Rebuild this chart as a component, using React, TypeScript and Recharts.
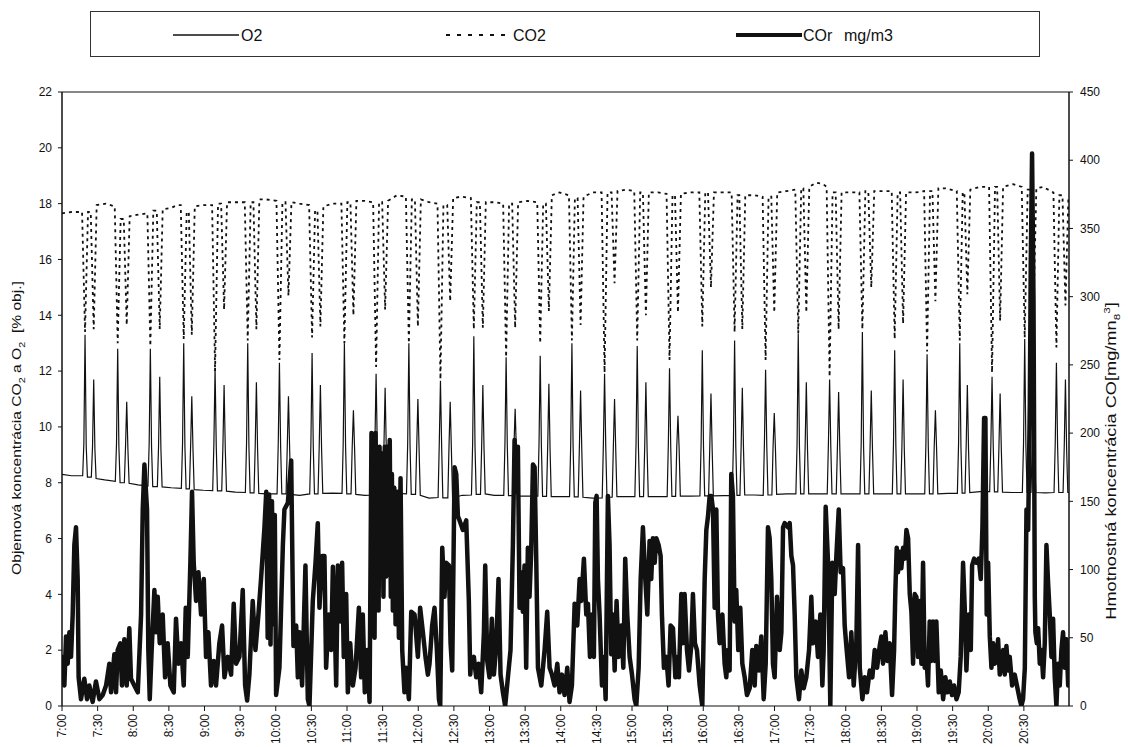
import React from "react";
import { ComposedChart, Line, XAxis, YAxis, ReferenceLine } from "recharts";

type Pt = [number, number];

// minutes after 7:00 for every labelled tick
const timeTicks = [
  0, 30, 60, 90, 120, 150, 180, 210, 240, 270, 300, 330, 360, 390, 420, 450, 480, 510, 540, 570,
  600, 630, 660, 690, 720, 750, 780, 810,
];
const timeLabels = [
  "7:00", "7:30", "8:00", "8:30", "9:00", "9:30", "10:00", "10:30", "11:00", "11:30", "12:00",
  "12:30", "13:00", "13:30", "14:00", "14:30", "15:00", "15:30", "16:00", "16:30", "17:00",
  "17:30", "18:00", "18:30", "19:00", "19:30", "20:00", "20:30",
];
const leftTicks = [0, 2, 4, 6, 8, 10, 12, 14, 16, 18, 20, 22];
const rightTicks = [0, 50, 100, 150, 200, 250, 300, 350, 400, 450];

// O2 [% obj.]  (minute, value)
const o2Points: Pt[] = [
  [0, 8.3], [8, 8.25],
  [17.4, 8.25], [18.4, 9.4], [19.4, 13.3], [20.4, 9.3], [21.4, 8.2], [24.7, 8.2], [25.7, 9.3], [26.7, 11.7], [27.7, 9.2], [28.7, 8.15], [36, 8.1],
  [44.9, 8.05], [45.9, 9.4], [46.9, 12.8], [47.9, 9.3], [48.9, 8.0], [52.5, 8.0], [53.5, 9.3], [54.5, 10.9], [55.5, 9.2], [56.5, 7.98], [64, 7.92],
  [72.4, 7.88], [73.4, 9.4], [74.4, 12.8], [75.4, 9.3], [76.4, 7.86], [80.3, 7.86], [81.3, 9.3], [82.3, 11.8], [83.3, 9.2], [84.3, 7.85], [92, 7.82],
  [100.5, 7.8], [101.5, 9.4], [102.5, 13.0], [103.5, 9.3], [104.5, 7.78], [107.3, 7.78], [108.3, 9.3], [109.3, 11.1], [110.3, 9.2], [111.3, 7.75], [119, 7.73],
  [126.9, 7.72], [127.9, 9.4], [128.9, 12.1], [129.9, 9.3], [130.9, 7.71], [134.5, 7.71], [135.5, 9.3], [136.5, 11.5], [137.5, 9.2], [138.5, 7.7], [146, 7.66],
  [154.4, 7.65], [155.4, 9.4], [156.4, 13.0], [157.4, 9.3], [158.4, 7.64], [161.7, 7.64], [162.7, 9.3], [163.7, 11.6], [164.7, 9.2], [165.7, 7.62], [173, 7.6],
  [181.1, 7.6], [182.1, 9.4], [183.1, 12.3], [184.1, 9.3], [185.1, 7.6], [188.7, 7.6], [189.7, 9.3], [190.7, 11.1], [191.7, 9.2], [192.7, 7.58], [200, 7.55],
  [208.6, 7.6], [209.6, 9.4], [210.6, 12.65], [211.6, 9.3], [212.6, 7.6], [215.6, 7.6], [216.6, 9.3], [217.6, 11.5], [218.6, 9.2], [219.6, 7.62], [228, 7.63],
  [235.8, 7.62], [236.8, 9.4], [237.8, 13.0], [238.8, 9.3], [239.8, 7.6], [243.4, 7.6], [244.4, 9.3], [245.4, 10.6], [246.4, 9.2], [247.4, 7.58], [255, 7.55],
  [262.5, 7.56], [263.5, 9.4], [264.5, 11.9], [265.5, 9.3], [266.5, 7.57], [270.1, 7.57], [271.1, 9.3], [272.1, 11.4], [273.1, 9.2], [274.1, 7.58], [282, 7.62],
  [290.1, 7.6], [291.1, 9.4], [292.1, 13.0], [293.1, 9.3], [294.1, 7.58], [297.7, 7.58], [298.7, 9.3], [299.7, 11.0], [300.7, 9.2], [301.7, 7.55], [309, 7.45],
  [316.7, 7.47], [317.7, 9.4], [318.7, 11.65], [319.7, 9.3], [320.7, 7.46], [324.9, 7.46], [325.9, 9.3], [326.9, 10.9], [327.9, 9.2], [328.9, 7.45], [337, 7.55],
  [344.8, 7.56], [345.8, 9.4], [346.8, 13.25], [347.8, 9.3], [348.8, 7.58], [352.4, 7.58], [353.4, 9.3], [354.4, 11.5], [355.4, 9.2], [356.4, 7.6], [364, 7.55],
  [372, 7.55], [373, 9.4], [374, 12.5], [375, 9.3], [376, 7.54], [379.6, 7.54], [380.6, 9.3], [381.6, 10.65], [382.6, 9.2], [383.6, 7.52], [392, 7.52],
  [400.7, 7.52], [401.7, 9.4], [402.7, 12.55], [403.7, 9.3], [404.7, 7.51], [408, 7.51], [409, 9.3], [410, 11.55], [411, 9.2], [412, 7.5], [420, 7.5],
  [427.4, 7.5], [428.4, 9.4], [429.4, 13.0], [430.4, 9.3], [431.4, 7.49], [434.7, 7.49], [435.7, 9.3], [436.7, 11.3], [437.7, 9.2], [438.7, 7.48], [447, 7.45],
  [454.9, 7.46], [455.9, 9.4], [456.9, 11.9], [457.9, 9.3], [458.9, 7.48], [463.3, 7.48], [464.3, 9.3], [465.3, 11.0], [466.3, 9.2], [467.3, 7.5], [475, 7.5],
  [482.4, 7.5], [483.4, 9.4], [484.4, 12.9], [485.4, 9.3], [486.4, 7.5], [489.7, 7.5], [490.7, 9.3], [491.7, 11.6], [492.7, 9.2], [493.7, 7.5], [502, 7.5],
  [509.6, 7.5], [510.6, 9.4], [511.6, 12.1], [512.6, 9.3], [513.6, 7.51], [516.7, 7.51], [517.7, 9.3], [518.7, 10.4], [519.7, 9.2], [520.7, 7.52], [529, 7.52],
  [537.2, 7.53], [538.2, 9.4], [539.2, 12.75], [540.2, 9.3], [541.2, 7.53], [544.5, 7.53], [545.5, 9.3], [546.5, 11.2], [547.5, 9.2], [548.5, 7.53], [557, 7.54],
  [564.4, 7.54], [565.4, 9.4], [566.4, 13.1], [567.4, 9.3], [568.4, 7.55], [570.9, 7.55], [571.9, 9.3], [572.9, 11.4], [573.9, 9.2], [574.9, 7.56], [583, 7.56],
  [590.5, 7.55], [591.5, 9.4], [592.5, 12.05], [593.5, 9.3], [594.5, 7.56], [597.8, 7.56], [598.8, 9.3], [599.8, 10.5], [600.8, 9.2], [601.8, 7.58], [610, 7.6],
  [618, 7.6], [619, 9.4], [620, 13.35], [621, 9.3], [622, 7.6], [624.8, 7.6], [625.8, 9.3], [626.8, 11.6], [627.8, 9.2], [628.8, 7.6], [637, 7.6],
  [644.4, 7.6], [645.4, 9.4], [646.4, 11.7], [647.4, 9.3], [648.4, 7.6], [652, 7.6], [653, 9.3], [654, 11.25], [655, 9.2], [656, 7.6], [664, 7.6],
  [672, 7.6], [673, 9.4], [674, 13.4], [675, 9.3], [676, 7.6], [679.5, 7.6], [680.5, 9.3], [681.5, 11.3], [682.5, 9.2], [683.5, 7.6], [691, 7.6],
  [699.2, 7.6], [700.2, 9.4], [701.2, 12.75], [702.2, 9.3], [703.2, 7.6], [706.3, 7.6], [707.3, 9.3], [708.3, 11.7], [709.3, 9.2], [710.3, 7.6], [719, 7.6],
  [726.5, 7.6], [727.5, 9.4], [728.5, 12.6], [729.5, 9.3], [730.5, 7.6], [733.5, 7.6], [734.5, 9.3], [735.5, 10.6], [736.5, 9.2], [737.5, 7.6], [746, 7.62],
  [754, 7.62], [755, 9.4], [756, 13.0], [757, 9.3], [758, 7.63], [760.4, 7.63], [761.4, 9.3], [762.4, 11.5], [763.4, 9.2], [764.4, 7.65], [773, 7.68],
  [781.2, 7.68], [782.2, 9.4], [783.2, 11.8], [784.2, 9.3], [785.2, 7.67], [788, 7.67], [789, 9.3], [790, 11.2], [791, 9.2], [792, 7.66], [800, 7.65],
  [808.7, 7.65], [809.7, 9.4], [810.7, 13.15], [811.7, 9.3], [812.7, 7.65], [816, 7.65], [817, 9.3], [818, 11.0], [819, 9.2], [820, 7.65], [828, 7.64],
  [835.4, 7.65], [836.4, 9.4], [837.4, 12.3], [838.4, 9.3], [839.4, 7.65], [843, 7.65], [844, 9.3], [845, 11.7], [846, 9.2], [847, 7.65], [850, 7.65],
];

// CO2 [% obj.]
const co2Points: Pt[] = [
  [0, 17.65], [8, 17.7],
  [16.9, 17.7], [19.4, 13.4], [21.9, 17.7], [24.2, 17.7], [26.7, 13.5], [29.2, 17.95], [37, 18.0],
  [44.4, 17.9], [46.9, 13.0], [49.4, 17.45], [52.0, 17.45], [54.5, 13.65], [57.0, 17.55], [63, 17.6],
  [71.9, 17.65], [74.4, 12.9], [76.9, 17.75], [79.8, 17.75], [82.3, 13.5], [84.8, 17.8], [92, 17.85], [97, 17.95],
  [100.0, 17.95], [102.5, 13.15], [105.0, 17.7], [106.8, 17.7], [109.3, 13.3], [111.8, 17.9], [119, 17.95],
  [126.4, 17.95], [128.9, 12.0], [131.4, 18.0], [134.0, 18.0], [136.5, 14.2], [139.0, 18.05], [146, 18.05],
  [153.9, 18.05], [156.4, 13.1], [158.9, 18.05], [161.2, 18.05], [163.7, 13.5], [166.2, 18.15], [172, 18.15],
  [180.6, 18.1], [183.1, 12.4], [185.6, 18.05], [188.2, 18.05], [190.7, 14.7], [193.2, 18.05], [200, 18.0],
  [208.1, 17.95], [210.6, 13.2], [213.1, 17.75], [215.1, 17.75], [217.6, 13.6], [220.1, 17.9], [228, 18.0],
  [235.3, 18.0], [237.8, 13.0], [240.3, 18.05], [242.9, 18.05], [245.4, 14.0], [247.9, 18.1], [255, 18.1],
  [262.0, 18.05], [264.5, 12.15], [267.0, 18.05], [269.6, 18.05], [272.1, 14.2], [274.6, 18.1], [282, 18.3],
  [289.6, 18.25], [292.1, 13.0], [294.6, 18.15], [297.2, 18.15], [299.7, 13.6], [302.2, 18.15], [309, 18.05],
  [316.2, 18.0], [318.7, 11.7], [321.2, 17.95], [324.4, 17.95], [326.9, 14.5], [329.4, 18.2], [336, 18.25],
  [344.3, 18.2], [346.8, 13.5], [349.3, 18.05], [351.9, 18.05], [354.4, 13.55], [356.9, 18.05], [364, 18.05],
  [371.5, 18.0], [374, 12.5], [376.5, 18.0], [379.1, 18.0], [381.6, 13.55], [384.1, 18.05], [392, 18.1],
  [400.2, 18.05], [402.7, 13.0], [405.2, 18.0], [407.5, 18.0], [410, 14.15], [412.5, 18.3], [419, 18.4],
  [426.9, 18.3], [429.4, 13.1], [431.9, 18.2], [434.2, 18.2], [436.7, 13.65], [439.2, 18.25], [447, 18.4],
  [454.4, 18.4], [456.9, 11.95], [459.4, 18.4], [462.8, 18.4], [465.3, 15.15], [467.8, 18.45], [475, 18.5],
  [481.9, 18.45], [484.4, 13.1], [486.9, 18.4], [489.2, 18.4], [491.7, 14.0], [494.2, 18.4], [502, 18.4],
  [509.1, 18.35], [511.6, 12.4], [514.1, 18.3], [516.2, 18.3], [518.7, 14.1], [521.2, 18.35], [529, 18.4],
  [536.7, 18.4], [539.2, 13.6], [541.7, 18.4], [544.0, 18.4], [546.5, 15.0], [549.0, 18.4], [557, 18.4],
  [563.9, 18.4], [566.4, 13.4], [568.9, 18.3], [570.4, 18.3], [572.9, 13.5], [575.4, 18.3], [583, 18.3],
  [590.0, 18.25], [592.5, 12.4], [595.0, 18.25], [597.3, 18.25], [599.8, 14.1], [602.3, 18.4], [610, 18.45],
  [617.5, 18.5], [620, 13.35], [622.5, 18.55], [624.3, 18.55], [626.8, 14.1], [629.3, 18.6], [635, 18.75], [641, 18.7],
  [643.9, 18.6], [646.4, 11.8], [648.9, 18.4], [651.5, 18.4], [654, 13.5], [656.5, 18.4], [664, 18.4],
  [671.5, 18.4], [674, 13.5], [676.5, 18.45], [679.0, 18.45], [681.5, 15.0], [684.0, 18.45], [691, 18.45],
  [698.7, 18.45], [701.2, 13.15], [703.7, 18.4], [705.8, 18.4], [708.3, 13.7], [710.8, 18.4], [719, 18.4],
  [726.0, 18.45], [728.5, 12.7], [731.0, 18.45], [733.0, 18.45], [735.5, 14.5], [738.0, 18.55], [744, 18.55],
  [753.5, 18.45], [756, 13.1], [758.5, 18.4], [759.9, 18.4], [762.4, 14.75], [764.9, 18.5], [773, 18.6],
  [780.7, 18.6], [783.2, 11.95], [785.7, 18.6], [787.5, 18.6], [790, 13.8], [792.5, 18.6], [801, 18.7],
  [808.2, 18.6], [810.7, 13.2], [813.2, 18.5], [815.5, 18.5], [818, 14.0], [820.5, 18.55], [826, 18.6],
  [834.9, 18.4], [837.4, 12.85], [839.9, 18.3], [842.5, 18.3], [845, 14.35], [847.5, 18.25], [850, 18.2],
];

// COr [mg/m3], right axis
const corPoints: Pt[] = [
  [0, 23], [0.5, 36], [2, 15], [3.4, 51], [4.8, 31], [6.2, 54], [7.6, 36], [9, 67], [10.4, 118], [11.8, 131],
  [13.2, 93], [14, 21], [16, 5], [18.8, 20], [21.1, 5], [23, 15], [25.8, 3], [28.6, 18], [31.5, 5], [34.3, 8],
  [37.1, 15], [39.9, 31], [41.3, 10], [44.1, 38], [45.5, 10], [46.9, 41], [49.1, 46], [50.5, 15], [52.5, 49],
  [54.5, 15], [56.7, 57], [58.1, 20], [60.9, 15], [63.8, 10], [66.6, 67], [68, 144], [69.4, 177], [71.6, 144],
  [72.7, 41], [73.9, 5], [75.5, 41], [77.8, 85], [79.2, 54], [80.6, 80], [82.3, 46], [84.8, 67], [86.8, 21],
  [89, 46], [91.3, 15], [94.1, 10], [96, 64], [98, 31], [100.3, 46], [102.5, 15], [104.2, 72], [105.9, 36],
  [108.1, 105], [109.5, 157], [110.9, 105], [112.9, 77], [114.9, 98], [117.1, 67], [119.4, 93], [121.3, 36],
  [123.3, 54], [125.5, 15], [127.8, 33], [129.7, 15], [132.5, 46], [134.8, 59], [136.8, 21], [139.6, 36],
  [142.4, 23], [144.6, 75], [146.6, 31], [149.4, 36], [152.2, 85], [154.2, 15], [155.9, 4], [157.8, 23],
  [160.6, 77], [162.9, 41], [165.4, 67], [167.6, 93], [170.5, 131],
  [172, 157], [173.2, 50], [174.4, 155], [175.6, 45], [176.8, 150], [178, 60], [179.2, 140], [180.3, 8],
  [183.1, 28], [186, 118], [187.3, 144], [190.2, 149], [193, 180], [194.9, 44], [197.2, 59], [198.6, 21],
  [200, 54], [202.2, 15], [205, 103], [207, 5], [208.4, 0], [211.2, 77], [213.5, 105], [215.4, 134], [216.8, 72],
  [219.1, 110], [221, 110], [222.4, 28], [224.7, 67], [226.7, 41], [228.1, 102], [229.5, 67], [230.9, 15],
  [232.3, 103], [234.2, 62], [235.9, 105], [237.3, 36], [239.3, 82], [240.7, 10], [242.7, 46], [244.9, 15],
  [247.2, 28], [250, 72], [251.9, 21], [253.3, 67], [255, 10], [257, 41], [259, 3], [260.6, 200], [261.5, 60],
  [262.3, 195], [263.2, 50], [264, 200], [265, 90], [265.8, 188], [266.6, 70], [267.4, 190], [268.5, 100],
  [269.6, 185], [270.7, 80], [271.8, 190], [273, 95], [274, 190], [275.2, 120], [276, 195], [276.9, 80],
  [277.8, 170], [278.6, 70], [279.8, 160], [280.9, 60], [282.3, 157], [283.7, 50], [285.1, 167], [286.5, 41],
  [288.4, 10], [289.8, 28], [292.1, 5], [294.1, 69], [296.9, 67], [299.7, 36], [301.6, 72], [303.9, 54],
  [306.1, 36], [308.1, 23], [309.5, 31], [311.7, 59], [313.7, 72], [315.7, 41], [317.4, 5], [318.5, 0],
  [320.2, 116], [322.1, 80], [323.5, 105], [325.8, 103], [327.2, 46], [328.6, 26], [330.6, 175], [332, 170],
  [333.4, 139], [334.8, 136], [337.6, 129], [340.4, 136], [342.6, 77], [343.8, 23],
  [344.6, 33], [346.8, 36], [348.8, 21], [350.8, 31], [353, 10], [355.3, 54], [356.4, 103], [358.1, 33],
  [360, 21], [362, 64], [363.7, 23], [365.7, 44], [367.6, 93], [369.3, 23], [371.3, 10], [373.2, 0], [375.5, 21],
  [377.7, 41], [379.7, 118], [381.1, 195], [382.5, 157], [383.9, 190], [385.3, 72], [386.7, 98], [388.1, 69],
  [389.5, 103], [390.9, 28], [392.3, 116], [393.7, 80], [395.1, 113], [396.6, 177], [398, 175], [399.4, 105],
  [400.8, 28], [403.6, 15], [406.4, 41], [408.6, 69], [410.6, 28], [412.6, 23], [414.8, 15], [417.1, 31],
  [419, 10], [421, 23], [423.2, 8], [425.5, 28], [427.4, 3], [429.4, 15], [431.7, 75], [433.9, 59], [435.9, 93],
  [437.3, 77], [439.5, 108], [441.5, 67], [442.9, 75], [444.6, 36], [446.3, 67], [447.9, 36], [449.1, 149],
  [450.2, 154], [451.3, 93], [452.7, 67], [454.7, 15], [456.4, 36], [457.8, 5], [459.7, 154], [461.1, 118],
  [462.5, 38], [463.9, 67], [465.4, 26], [467, 77], [468.7, 36], [471, 59], [472.7, 28], [474.3, 108], [476, 67],
  [478, 36], [480, 23], [482.2, 5], [483.6, 0], [485.6, 28], [487.3, 93], [489.2, 131], [491.2, 93], [492.9, 67],
  [494.8, 121], [496.2, 93], [497.6, 123], [499.1, 105], [500.5, 123], [502.4, 118], [504.1, 110], [505.2, 67],
  [506.9, 28], [508.9, 36], [510.8, 15], [512.5, 59], [514.5, 57], [516.5, 21],
  [518.7, 36], [519.5, 21], [521.5, 82], [522.9, 46], [524.3, 82], [526.3, 41], [528, 26], [529.9, 44],
  [531.3, 82], [533, 46], [534.7, 41], [537, 15], [539.2, 0], [541.2, 93], [542.6, 129], [544, 139], [545.4, 154],
  [546.8, 154], [548.2, 144], [549.6, 72], [551, 144], [552.4, 67], [553.8, 46], [556.1, 67], [558, 31],
  [559.4, 21], [560.8, 41], [562.2, 26], [563.6, 170], [565, 154], [566.4, 62], [567.8, 85], [569.5, 41],
  [571.2, 72], [572.9, 31], [574.9, 21], [576.8, 8], [579.1, 13], [581.3, 41], [583.3, 15], [584.7, 44],
  [586.9, 26], [588.9, 51], [590.9, 5], [592.6, 31], [594.5, 131], [595.9, 123], [597.3, 93], [598.7, 31],
  [600.1, 21], [602.1, 80], [604.4, 41], [605.8, 54], [607.2, 131], [608.6, 134], [611.4, 131], [612.8, 134],
  [614.2, 110], [615.6, 103], [617, 67], [618.4, 21], [620.6, 5], [622.6, 26], [624.6, 13], [626.8, 21],
  [629.1, 41], [631, 80], [632.4, 46], [634.7, 62], [636.6, 36], [638.6, 67], [640.3, 15], [641.4, 41],
  [643.1, 146], [645.1, 105], [647, 0], [648.7, 105], [650.7, 82], [652.1, 110], [654.1, 144], [655.7, 98],
  [657.7, 101], [659.1, 59], [660.5, 44], [662.8, 21], [664.7, 54], [666.7, 15], [668.9, 46], [670.4, 118],
  [671.8, 28], [674, 5], [676, 21], [677.9, 10], [680.2, 26], [682.4, 21], [684.4, 41], [686.4, 28], [688.6, 44],
  [690, 51], [691.4, 31], [693.4, 54], [695.1, 33], [697, 46], [699, 8], [700.7, 41], [701.8, 85], [702.9, 116],
  [704, 98], [705.4, 113], [706.8, 101], [708.3, 116], [709.7, 108], [711.1, 129], [712.5, 123], [713.9, 82],
  [715.3, 69], [716.7, 31], [718.1, 82], [719.5, 80], [720.9, 36], [722.3, 77], [723.7, 31], [725.1, 105],
  [726.5, 28], [727.9, 36], [729.3, 15], [730.7, 62], [732.1, 33], [733.5, 62], [734.9, 33], [736.3, 62],
  [738.3, 10], [740, 26], [742, 5], [743.9, 21], [745.6, 10], [747.6, 18], [749.5, 8], [751.2, 15], [753.2, 5],
  [755.1, 10], [756.8, 36], [758.8, 105], [760.2, 72], [761.6, 26], [763.6, 67], [765.3, 41], [766.4, 103],
  [768.1, 108], [770, 105], [772, 108], [773.7, 93], [775.1, 131], [776.5, 211], [777.6, 211], [778.7, 67],
  [779.9, 105], [781.3, 51], [782.7, 28], [784.1, 46], [785.5, 31], [786.9, 33], [788.3, 49], [789.7, 23],
  [791.1, 31], [792.5, 41], [793.9, 23], [795.3, 44], [796.7, 26], [798.1, 36], [800.1, 15], [802.3, 23],
  [804.6, 13], [806.5, 5], [807.9, 0], [809.3, 5], [810.8, 28], [812.2, 144], [813.6, 129], [815, 221],
  [815.8, 324], [816.9, 405], [818.1, 298], [819.2, 80], [819.7, 54], [820.9, 46], [822, 57], [823.4, 31],
  [824.8, 41], [826.2, 21], [827.6, 46], [829, 118], [830.4, 90], [831.8, 67], [833.2, 36], [834.6, 64],
  [836, 21], [837.4, 0], [838.8, 31], [840.2, 15], [841.6, 41], [843, 54], [844.5, 28], [845.9, 49],
  [847.3, 15], [848.7, 46],
];

const FONT = '"Liberation Sans", Arial, Helvetica, sans-serif';
const INK = "#111";

const toRows = (pts: Pt[]) => pts.map(([t, v]) => ({ t, v }));

const TimeTick = (props: any) => {
  const { x, y, payload } = props;
  const idx = timeTicks.indexOf(payload.value);
  return (
    <text
      transform={`translate(${x}, ${y}) rotate(-90)`}
      textAnchor="end"
      dy="0.35em"
      fontSize={12}
      fontFamily={FONT}
      fill={INK}
    >
      {idx >= 0 ? timeLabels[idx] : ""}
    </text>
  );
};

// scanned original is stretched a little vertically, so the rotated titles run longer
const rotatedTitle = (left: number, top: number, size: number, stretch: number): React.CSSProperties => ({
  position: "absolute",
  left,
  top,
  transform: `translate(-50%, -50%) rotate(-90deg) scaleX(${stretch})`,
  whiteSpace: "nowrap",
  fontFamily: FONT,
  fontSize: size,
  color: INK,
});

export default function App() {
  return (
    <div
      style={{
        position: "absolute",
        left: 0,
        top: 0,
        width: 1128,
        height: 747,
        background: "#fff",
        overflow: "hidden",
        fontFamily: FONT,
      }}
    >
      {/* legend box */}
      <div
        style={{
          position: "absolute",
          left: 90,
          top: 11,
          width: 950,
          height: 46,
          boxSizing: "border-box",
          border: "1px solid #333",
        }}
      >
        <svg width={948} height={44} style={{ position: "absolute", left: 0, top: 0 }}>
          <line x1={82} x2={148} y1={23} y2={23} stroke={INK} strokeWidth={1.3} />
          <line x1={355} x2={421} y1={23} y2={23} stroke={INK} strokeWidth={1.8} strokeDasharray="4 7" />
          <line x1={645} x2={711} y1={23} y2={23} stroke={INK} strokeWidth={4} />
          <text x={150} y={29} fontSize={16} fontFamily={FONT} fill={INK}>O2</text>
          <text x={422} y={29} fontSize={16} fontFamily={FONT} fill={INK}>CO2</text>
          <text x={712} y={29} fontSize={16} fontFamily={FONT} fill={INK}>COr</text>
          <text x={753} y={29} fontSize={16} fontFamily={FONT} fill={INK}>mg/m3</text>
        </svg>
      </div>

      <div style={rotatedTitle(18, 428, 13, 1.2)}>
        Objemová koncentrácia CO<sub style={{ fontSize: 9 }}>2</sub> a O<sub style={{ fontSize: 9 }}>2</sub>&nbsp;&nbsp;[% obj.]
      </div>
      <div style={rotatedTitle(1112, 461, 14, 1.3)}>
        Hmotnostná koncentrácia CO[mg/mn<sub style={{ fontSize: 9 }}>8</sub><sup style={{ fontSize: 9 }}>3</sup>]
      </div>

      <ComposedChart width={1128} height={747} margin={{ top: 92, right: 0, bottom: 0, left: 0 }}>
        <XAxis
          dataKey="t"
          type="number"
          domain={[0, 848]}
          ticks={timeTicks}
          interval={0}
          allowDataOverflow
          height={41}
          tickSize={5}
          tickMargin={3}
          tick={<TimeTick />}
          axisLine={{ stroke: INK, strokeWidth: 1 }}
          tickLine={{ stroke: INK }}
        />
        <YAxis
          yAxisId="left"
          orientation="left"
          width={62}
          domain={[0, 22]}
          ticks={leftTicks}
          interval={0}
          allowDataOverflow
          tickSize={4}
          tickMargin={6}
          tick={{ fontSize: 12, fill: INK, fontFamily: FONT }}
          axisLine={{ stroke: INK, strokeWidth: 1.5 }}
          tickLine={{ stroke: INK }}
        />
        <YAxis
          yAxisId="right"
          orientation="right"
          width={59}
          domain={[0, 450]}
          ticks={rightTicks}
          interval={0}
          allowDataOverflow
          tickSize={4}
          tickMargin={7}
          tick={{ fontSize: 12, fill: INK, fontFamily: FONT }}
          axisLine={{ stroke: INK, strokeWidth: 1.5 }}
          tickLine={{ stroke: INK }}
        />
        <ReferenceLine yAxisId="left" y={22} stroke={INK} strokeWidth={1} />
        <Line
          yAxisId="left"
          data={toRows(o2Points)}
          dataKey="v"
          type="linear"
          stroke={INK}
          strokeWidth={1.2}
          dot={false}
          activeDot={false}
          isAnimationActive={false}
        />
        <Line
          yAxisId="left"
          data={toRows(co2Points)}
          dataKey="v"
          type="linear"
          stroke={INK}
          strokeWidth={1.8}
          strokeDasharray="3 4"
          dot={false}
          activeDot={false}
          isAnimationActive={false}
        />
        <Line
          yAxisId="right"
          data={toRows(corPoints)}
          dataKey="v"
          type="linear"
          stroke={INK}
          strokeWidth={4.5}
          strokeLinejoin="round"
          dot={false}
          activeDot={false}
          isAnimationActive={false}
        />
      </ComposedChart>
    </div>
  );
}
